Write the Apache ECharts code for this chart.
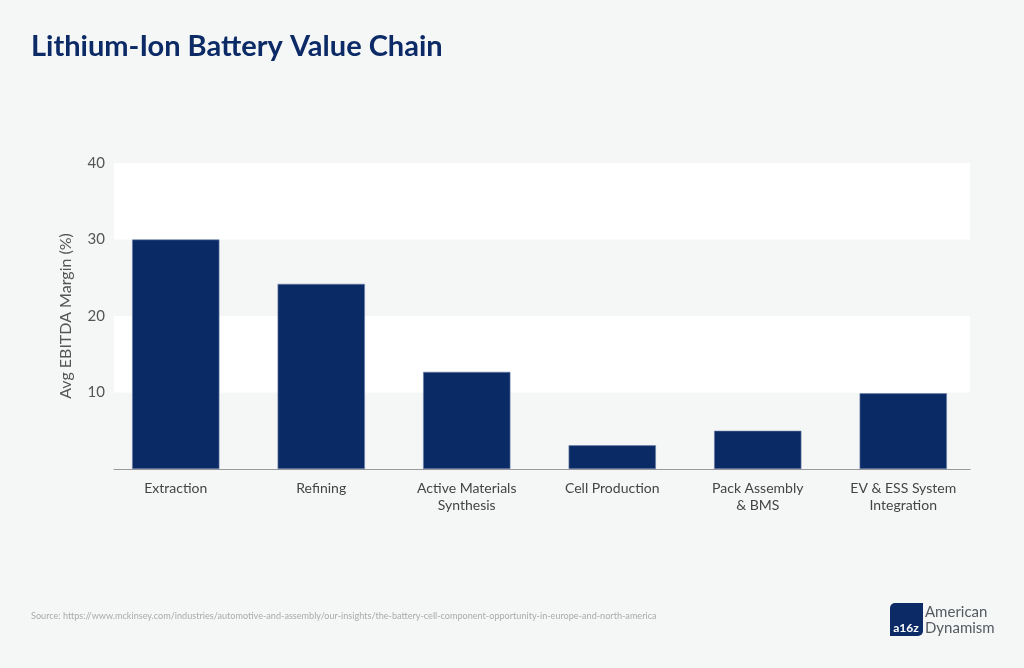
<!DOCTYPE html>
<html><head><meta charset="utf-8">
<script src="https://cdn.jsdelivr.net/npm/echarts@6/dist/echarts.min.js"></script>
<style>html,body{margin:0;padding:0;background:#f5f7f7;}#c{width:1024px;height:668px;}</style>
</head><body><div id="c"></div>
<script>
const categories = ['Extraction','Refining','Active Materials\nSynthesis','Cell Production','Pack Assembly\n& BMS','EV & ESS System\nIntegration'];
const margins = [30, 24.2, 12.7, 3.1, 5.0, 9.9];
const yTicks = {min: 0, max: 40, interval: 10};
const titleText = 'Lithium-Ion Battery Value Chain';
const sourceText = 'Source: https://www.mckinsey.com/industries/automotive-and-assembly/our-insights/the-battery-cell-component-opportunity-in-europe-and-north-america';
const yName = 'Avg EBITDA Margin (%)';

const chart = echarts.init(document.getElementById('c'));
chart.setOption({
  backgroundColor: '#f5f7f7',
  animation: false,
  title: {text: titleText, left: 26, top: 27, textStyle: {fontFamily: 'Lato', fontWeight: 'bold', fontSize: 29, color: '#0b2a66'}},
  grid: [
    {left: 114, right: 54, top: 163, bottom: 199},
    {left: 103, right: 48, top: 163, bottom: 199}
  ],
  xAxis: [
    {type: 'category', gridIndex: 0, data: categories,
     axisLine: {lineStyle: {color: '#9a9a9a', width: 1.2}},
     axisTick: {show: false}, axisLabel: {show: false}},
    {type: 'category', gridIndex: 1, data: categories,
     axisLine: {show: false}, axisTick: {show: false},
     axisLabel: {color: '#444', fontFamily: 'Lato', fontSize: 14, lineHeight: 17, margin: 11}}
  ],
  yAxis: [
    {type: 'value', gridIndex: 0, min: yTicks.min, max: yTicks.max, interval: yTicks.interval,
     name: yName, nameLocation: 'middle', nameGap: 40, nameRotate: 90,
     nameTextStyle: {color: '#555', fontFamily: 'Lato', fontSize: 16},
     axisLine: {show: false}, axisTick: {show: false},
     axisLabel: {color: '#555', fontFamily: 'Lato', fontSize: 15, margin: 9, formatter: v => v === 0 ? '' : v},
     splitLine: {show: false},
     splitArea: {show: true, areaStyle: {color: ['rgba(0,0,0,0)', '#ffffff']}}},
    {type: 'value', gridIndex: 1, min: yTicks.min, max: yTicks.max, interval: yTicks.interval,
     axisLine: {show: false}, axisTick: {show: false}, axisLabel: {show: false}, splitLine: {show: false}}
  ],
  series: [{
    type: 'bar', xAxisIndex: 1, yAxisIndex: 1, data: margins, barWidth: '60%',
    itemStyle: {color: '#0a2a66', borderColor: '#6f82a8', borderWidth: 0.6}
  }],
  graphic: [
    {type: 'text', left: 31, top: 612, style: {text: sourceText, fontFamily: 'Lato', fontSize: 9.1, fill: '#aaaaaa'}},
    {type: 'rect', shape: {x: 890, y: 603, width: 33, height: 33, r: [5,0,5,0]}, style: {fill: '#0b2a66'}},
    {type: 'text', x: 906, y: 628, style: {text: 'a16z', fontFamily: 'Lato', fontWeight: 'bold', fontSize: 12, fill: '#fff', align: 'center', verticalAlign: 'middle'}},
    {type: 'text', x: 925, y: 612, style: {text: 'American', fontFamily: 'Lato', fontSize: 15, fill: '#555a60', verticalAlign: 'middle'}},
    {type: 'text', x: 925, y: 628, style: {text: 'Dynamism', fontFamily: 'Lato', fontSize: 15, fill: '#555a60', verticalAlign: 'middle'}}
  ]
});
</script></body></html>
